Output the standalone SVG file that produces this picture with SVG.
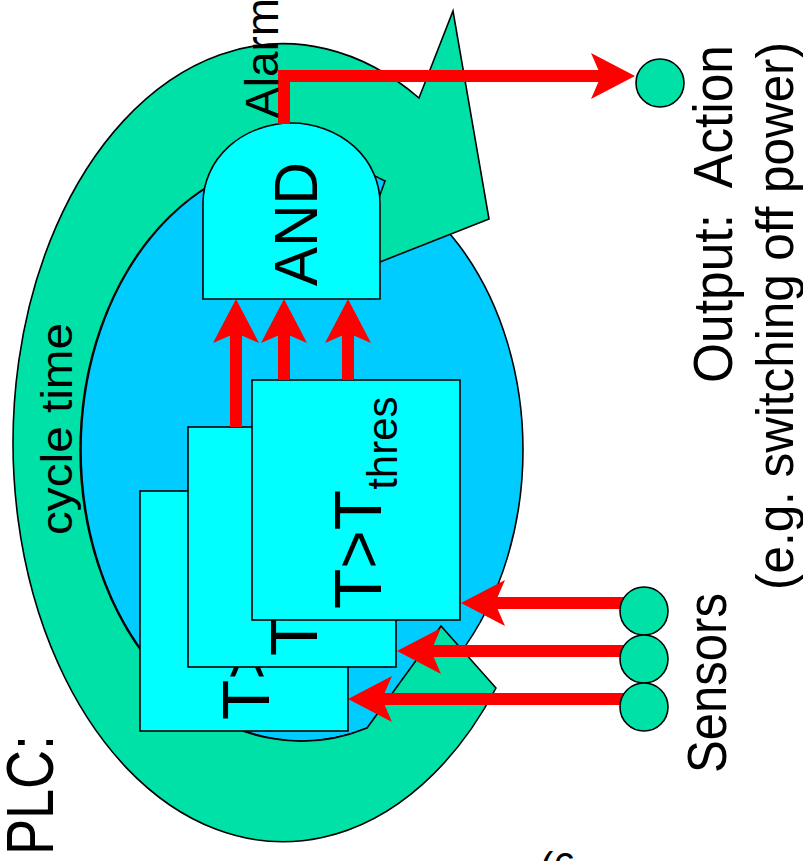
<svg xmlns="http://www.w3.org/2000/svg" width="803" height="861" viewBox="0 0 803 861">
<style>
.t{font-family:"Liberation Sans",Arial,sans-serif;fill:#000}
.ln{stroke:#000;stroke-width:1.6;stroke-linejoin:miter}
.g{fill:#00E1A8}
.box{fill:#00FFFF;stroke:#000;stroke-width:1.6}
.arr{fill:none;stroke:#FF0000;stroke-width:12;marker-end:url(#ah)}
</style>
<defs>
<marker id="ah" markerUnits="userSpaceOnUse" markerWidth="44" markerHeight="46" viewBox="0 0 44 46" refX="10" refY="23" orient="auto">
<path d="M0,0 L44,23 L0,46 L10,23 Z" fill="#FF0000"/>
</marker>
</defs>
<rect width="803" height="861" fill="#fff"/>
<g id="plc-scope">
<ellipse id="scan-area" cx="302" cy="450" rx="221" ry="291" fill="#00CCFF" class="ln"/>
<path id="cycle-ring" class="g ln" d="M419,98 A270,399 0 1 0 496,688 L441,626 L367,728 A221,291 0 1 1 385,181 L352,273 L489,219 L453,11 Z"/>
</g>
<g id="and-gate">
<path d="M203,299 L203,203 A88.5,80 0 0 1 380,203 L380,299 Z" class="box"/>
<text class="t" font-size="62" transform="translate(317,286) rotate(-90)" textLength="124" lengthAdjust="spacingAndGlyphs">AND</text>
</g>
<g id="cmp1" transform="translate(140,491)">
<rect class="box" width="208" height="240"/>
<text class="t" font-size="66" transform="translate(129,229) rotate(-90)">T&gt;T<tspan font-size="42" dy="16">thres</tspan></text>
</g>
<g id="cmp2" transform="translate(188,427)">
<rect class="box" width="208" height="240"/>
<text class="t" font-size="66" transform="translate(129,229) rotate(-90)">T&gt;T<tspan font-size="42" dy="16">thres</tspan></text>
</g>
<g id="cmp3" transform="translate(252,380)">
<rect class="box" width="208" height="240"/>
<text class="t" font-size="66" transform="translate(129,229) rotate(-90)">T&gt;T<tspan font-size="42" dy="16">thres</tspan></text>
</g>
<g id="connectors">
<polyline class="arr" points="284,124 284,76 601,76"/>
<line class="arr" x1="236" y1="427" x2="236" y2="333"/>
<line class="arr" x1="284" y1="380" x2="284" y2="333"/>
<line class="arr" x1="348" y1="380" x2="348" y2="333"/>
<line class="arr" x1="624" y1="603" x2="495" y2="603"/>
<line class="arr" x1="624" y1="651" x2="431" y2="651"/>
<line class="arr" x1="624" y1="699" x2="382" y2="699"/>
</g>
<g id="sensors">
<circle cx="644" cy="611" r="24" class="g ln"/>
<circle cx="644" cy="659" r="24" class="g ln"/>
<circle cx="644" cy="707" r="24" class="g ln"/>
</g>
<g id="output">
<circle cx="660" cy="83" r="24" class="g ln"/>
</g>
<g id="labels">
<text class="t" font-size="66" transform="translate(53,855) rotate(-90)" textLength="120" lengthAdjust="spacingAndGlyphs">PLC:</text>
<text class="t" font-size="44" transform="translate(72,535) rotate(-90)" textLength="212" lengthAdjust="spacingAndGlyphs">cycle time</text>
<text class="t" font-size="46" transform="translate(278,118) rotate(-90)">Alarm</text>
<text class="t" font-size="56" transform="translate(726,773) rotate(-90)" textLength="180" lengthAdjust="spacingAndGlyphs">Sensors</text>
<text class="t" font-size="56" transform="translate(732,383) rotate(-90)" textLength="338" lengthAdjust="spacingAndGlyphs" xml:space="preserve">Output:  Action</text>
<text class="t" font-size="52" transform="translate(793,590) rotate(-90)" textLength="548" lengthAdjust="spacingAndGlyphs">(e.g. switching off power)</text>
<text class="t" font-size="40" x="540" y="881">(6</text>
</g>
</svg>
